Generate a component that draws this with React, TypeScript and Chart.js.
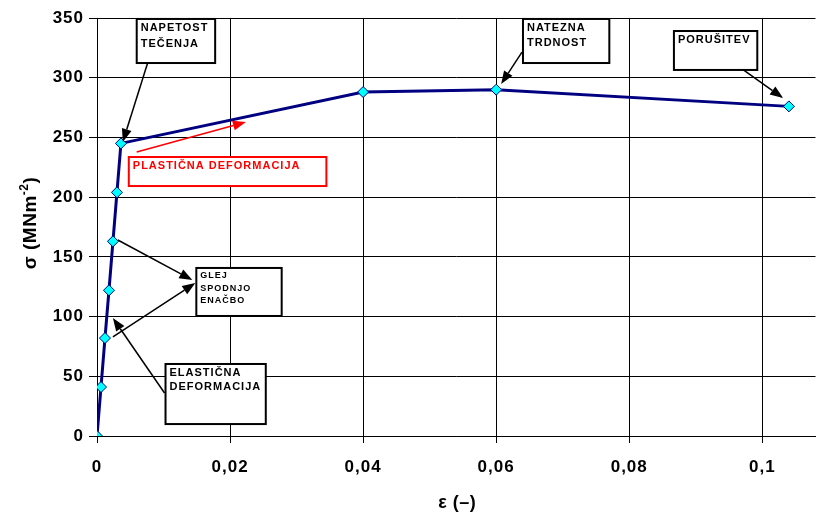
import React, { useEffect, useRef } from 'react';
import { Chart, registerables } from 'chart.js';

Chart.register(...registerables);

// ---- data ----
const strain = [0, 0.0006, 0.0012, 0.0018, 0.0024, 0.003, 0.0036, 0.04, 0.06, 0.104];
const stress = [0, 41, 82, 122, 163, 204, 245, 288, 290, 276];
const xTicks = [0, 0.02, 0.04, 0.06, 0.08, 0.1];
const yTicks = [0, 50, 100, 150, 200, 250, 300, 350];
const xTitle = 'ε (–)';
const yTitleMain = 'σ (MNm';
const yTitleSup = '-2';
const yTitleEnd = ')';

// annotation boxes (anchored in data units)
const boxLabels = [
  ['NAPETOST', 'TEČENJA'],
  ['PLASTIČNA DEFORMACIJA'],
  ['GLEJ', 'SPODNJO', 'ENAČBO'],
  ['ELASTIČNA', 'DEFORMACIJA'],
  ['NATEZNA', 'TRDNOST'],
  ['PORUŠITEV'],
];
const boxCorners = [
  [0.00597, 349.2, 0.01776, 312.3],
  [0.00478, 233.6, 0.03448, 209.3],
  [0.01493, 140.7, 0.02776, 100.5],
  [0.0103, 60.3, 0.02537, 10.0],
  [0.06403, 349.2, 0.07701, 312.3],
  [0.08672, 339.1, 0.09925, 306.5],
];
const boxColors = ['#000000', '#FF0000', '#000000', '#000000', '#000000', '#000000'];
const boxFontSizes = [11, 11, 9, 11, 11, 11];
const boxLineGaps = [16, 16, 12.5, 14.5, 15, 15];

// arrows: [fromX, fromY, toX, toY]
const arrows = [
  [0.00761, 312.3, 0.00388, 246.2],
  [0.00597, 237.8, 0.02239, 262.9],
  [0.00313, 164.1, 0.01433, 130.6],
  [0.00239, 82.9, 0.01478, 128.1],
  [0.01015, 36.0, 0.00239, 98.8],
  [0.06388, 321.5, 0.06075, 294.7],
  [0.09716, 306.5, 0.10313, 283.0],
];
const arrowColors = ['#000000', '#FF0000', '#000000', '#000000', '#000000', '#000000', '#000000'];

const FONT = '"Liberation Sans", Arial, sans-serif';

const annotatePlugin = {
  id: 'annotate',
  beforeDraw(chart: any) {
    chart.ctx.letterSpacing = '1px';
  },
  afterDatasetsDraw(chart: any) {
    const { ctx } = chart;
    const x = chart.scales.x;
    const y = chart.scales.y;
    ctx.save();
    // boxes
    boxLabels.forEach((lines, i) => {
      const [x0, y0, x1, y1] = boxCorners[i];
      const l = x.getPixelForValue(x0);
      const t = y.getPixelForValue(y0);
      const r = x.getPixelForValue(x1);
      const b = y.getPixelForValue(y1);
      ctx.fillStyle = '#ffffff';
      ctx.fillRect(l, t, r - l, b - t);
      ctx.strokeStyle = boxColors[i];
      ctx.lineWidth = 2;
      ctx.strokeRect(l, t, r - l, b - t);
      const size = boxFontSizes[i];
      ctx.font = `bold ${size}px ${FONT}`;
      ctx.letterSpacing = '1px';
      ctx.fillStyle = boxColors[i];
      ctx.textAlign = 'left';
      ctx.textBaseline = 'alphabetic';
      lines.forEach((s, j) => {
        ctx.fillText(s, l + 4, t + 4 + size * 0.72 + j * boxLineGaps[i]);
      });
    });
    // arrows
    arrows.forEach((a, i) => {
      const fx = x.getPixelForValue(a[0]);
      const fy = y.getPixelForValue(a[1]);
      const tx = x.getPixelForValue(a[2]);
      const ty = y.getPixelForValue(a[3]);
      const ang = Math.atan2(ty - fy, tx - fx);
      const head = 13;
      const half = 5;
      const bx = tx - head * Math.cos(ang);
      const by = ty - head * Math.sin(ang);
      ctx.strokeStyle = arrowColors[i];
      ctx.fillStyle = arrowColors[i];
      ctx.lineWidth = 1.5;
      ctx.beginPath();
      ctx.moveTo(fx, fy);
      ctx.lineTo(bx, by);
      ctx.stroke();
      ctx.beginPath();
      ctx.moveTo(tx, ty);
      ctx.lineTo(bx + half * Math.sin(ang), by - half * Math.cos(ang));
      ctx.lineTo(bx - half * Math.sin(ang), by + half * Math.cos(ang));
      ctx.closePath();
      ctx.fill();
    });
    ctx.restore();
  },
  afterDraw(chart: any) {
    const { ctx, chartArea } = chart;
    ctx.save();
    ctx.fillStyle = '#000000';
    // x title
    ctx.letterSpacing = '0.5px';
    ctx.font = `bold 18px ${FONT}`;
    ctx.textAlign = 'center';
    ctx.textBaseline = 'alphabetic';
    ctx.fillText(xTitle, (chartArea.left + chartArea.right) / 2 + 1, 508);
    // y title with superscript
    ctx.letterSpacing = '0.5px';
    ctx.translate(36, (chartArea.top + chartArea.bottom) / 2 - 4);
    ctx.rotate(-Math.PI / 2);
    ctx.textAlign = 'left';
    ctx.font = `bold 19px ${FONT}`;
    const w1 = ctx.measureText(yTitleMain).width;
    const w3 = ctx.measureText(yTitleEnd).width;
    ctx.font = `bold 12px ${FONT}`;
    const w2 = ctx.measureText(yTitleSup).width;
    const start = -(w1 + w2 + w3) / 2;
    ctx.font = `bold 19px ${FONT}`;
    ctx.fillText(yTitleMain, start, 0);
    ctx.fillText(yTitleEnd, start + w1 + w2, 0);
    ctx.font = `bold 12px ${FONT}`;
    ctx.fillText(yTitleSup, start + w1, -8);
    ctx.restore();
  },
};

export default function App() {
  const ref = useRef<HTMLCanvasElement | null>(null);
  useEffect(() => {
    document.body.style.margin = '0';
    const canvas = ref.current!;
    const tickFont = { family: FONT, size: 17, weight: 'bold' as const };
    const chart = new Chart(canvas, {
      type: 'scatter',
      data: {
        datasets: [
          {
            data: strain.map((v, i) => ({ x: v, y: stress[i] })),
            showLine: true,
            borderColor: '#000080',
            borderWidth: 3,
            pointStyle: 'rectRot',
            pointRadius: 5.5,
            pointBackgroundColor: '#00FFFF',
            pointBorderColor: '#000080',
            pointBorderWidth: 1,
            tension: 0,
          },
        ],
      },
      options: {
        animation: false,
        responsive: false,
        devicePixelRatio: 1,
        events: [],
        layout: { padding: { top: 18, right: 1, left: 0, bottom: 0 } },
        plugins: { legend: { display: false }, tooltip: { enabled: false } },
        scales: {
          x: {
            type: 'linear',
            min: 0,
            max: 0.108,
            afterBuildTicks: (s: any) => {
              s.ticks = xTicks.map((v) => ({ value: v }));
            },
            afterFit: (s: any) => {
              s.height = 77;
            },
            ticks: {
              font: tickFont,
              color: '#000',
              padding: 14,
              maxRotation: 0,
              autoSkip: false,
              callback: (v: any) => String(v).replace('.', ','),
            },
            grid: { color: '#000', lineWidth: 1, tickLength: 7 },
            border: { color: '#000', width: 1 },
          },
          y: {
            type: 'linear',
            min: 0,
            max: 350,
            afterBuildTicks: (s: any) => {
              s.ticks = yTicks.map((v) => ({ value: v }));
            },
            afterFit: (s: any) => {
              s.width = 97;
            },
            ticks: {
              font: tickFont,
              color: '#000',
              padding: 5,
              autoSkip: false,
              callback: (v: any) => String(v),
            },
            grid: { color: '#000', lineWidth: 1, tickLength: 8 },
            border: { color: '#000', width: 1 },
          },
        },
      },
      plugins: [annotatePlugin],
    });
    return () => chart.destroy();
  }, []);
  return (
    <div style={{ position: 'fixed', left: 0, top: 0, width: 822, height: 513, background: '#fff' }}>
      <canvas ref={ref} width={822} height={513} />
    </div>
  );
}
